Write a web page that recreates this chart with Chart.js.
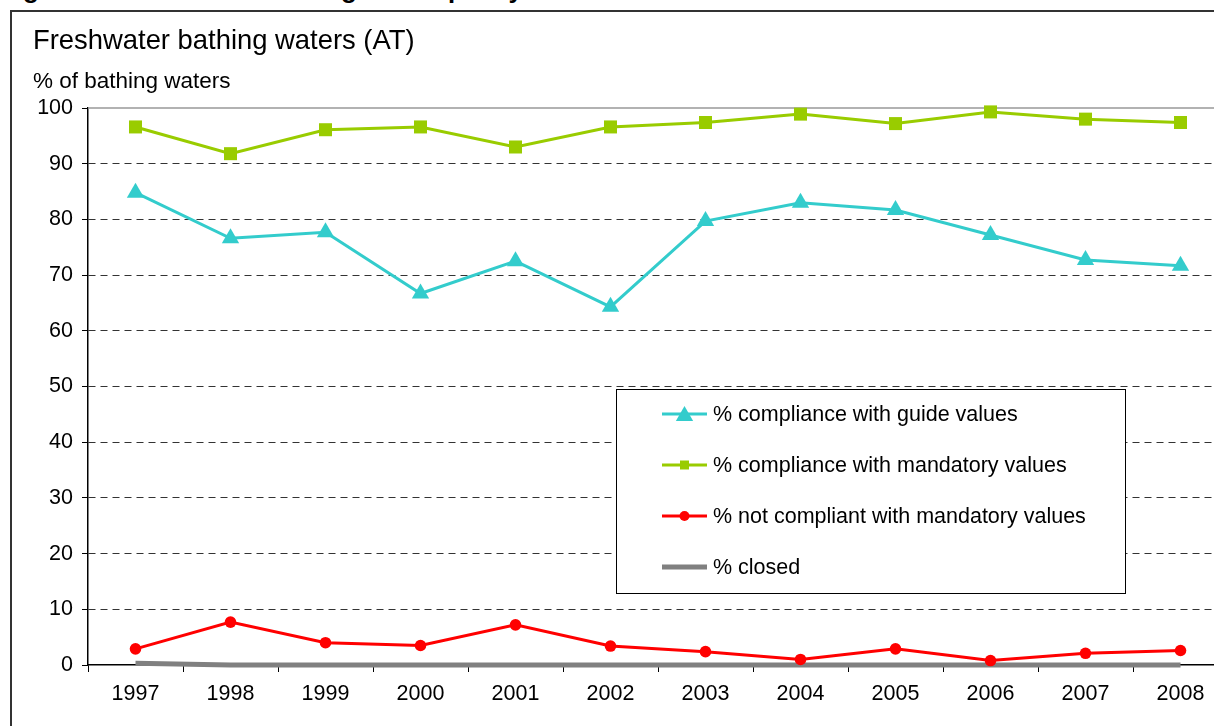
<!DOCTYPE html>
<html>
<head>
<meta charset="utf-8">
<script src="https://cdn.jsdelivr.net/npm/chart.js@4.4.1/dist/chart.umd.min.js"></script>
<style>
  html, body { margin: 0; padding: 0; background: #fff; overflow: hidden; width: 1214px; height: 726px; }
  body { position: relative; font-family: "Liberation Sans", Arial, sans-serif; color: #000; }
  #heading { position: absolute; left: 0; top: -24px; font-weight: bold; font-size: 26px; line-height: 26px; white-space: nowrap; }
  #frame { position: absolute; left: 10px; top: 10px; width: 1300px; height: 800px; border: 2px solid #333; box-sizing: border-box; }
  #title { position: absolute; left: 33px; top: 24px; font-size: 27.4px; line-height: 32px; white-space: nowrap; }
  #ytitle { position: absolute; left: 33px; top: 68px; font-size: 22.5px; line-height: 26px; white-space: nowrap; }
  #wrap { position: absolute; left: 0; top: 0; width: 1240px; height: 726px; }
</style>
</head>
<body>
<div id="heading">Figure 1: Freshwater bathing water quality</div>
<div id="frame"></div>
<div id="wrap"><canvas id="myChart" width="1240" height="726"></canvas></div>
<div id="title">Freshwater bathing waters (AT)</div>
<div id="ytitle">% of bathing waters</div>

<script>
// values
const years = ['1997', '1998', '1999', '2000', '2001', '2002', '2003', '2004', '2005', '2006', '2007', '2008'];
const guideValues = [84.8, 76.6, 77.7, 66.7, 72.5, 64.3, 79.7, 83.0, 81.7, 77.2, 72.7, 71.7];
const mandatoryValues = [96.6, 91.8, 96.1, 96.6, 93.0, 96.6, 97.4, 98.9, 97.2, 99.3, 98.0, 97.4];
const notCompliant = [2.9, 7.7, 4.0, 3.5, 7.2, 3.4, 2.4, 1.0, 2.9, 0.8, 2.1, 2.6];
const closedValues = [0.3, 0, 0, 0, 0, 0, 0, 0, 0, 0, 0, 0];
const yTicks = [0, 10, 20, 30, 40, 50, 60, 70, 80, 90, 100];

const fontFamily = '"Liberation Sans", Arial, sans-serif';

// top solid gray line at 100 (plot area edge)
const topLine = {
  id: 'topLine',
  beforeDatasetsDraw(chart) {
    const ctx = chart.ctx;
    const area = chart.chartArea;
    const y = chart.scales.y.getPixelForValue(100);
    ctx.save();
    ctx.strokeStyle = '#999';
    ctx.lineWidth = 1.5;
    ctx.beginPath();
    ctx.moveTo(area.left, y);
    ctx.lineTo(area.right, y);
    ctx.stroke();
    ctx.restore();
  }
};

function marker(ctx, style, x, y, r, color) {
  ctx.fillStyle = color;
  ctx.beginPath();
  if (style === 'triangle') {
    ctx.moveTo(x, y - r);
    ctx.lineTo(x + r * 0.866, y + r / 2);
    ctx.lineTo(x - r * 0.866, y + r / 2);
    ctx.closePath();
  } else if (style === 'rect') {
    ctx.rect(x - r, y - r, 2 * r, 2 * r);
  } else if (style === 'circle') {
    ctx.arc(x, y, r, 0, Math.PI * 2);
  }
  ctx.fill();
}

// legend box drawn inside the plot
const boxLegend = {
  id: 'boxLegend',
  afterDatasetsDraw(chart) {
    const ctx = chart.ctx;
    ctx.save();
    ctx.fillStyle = '#fff';
    ctx.fillRect(616, 389, 509, 204);
    ctx.strokeStyle = '#000';
    ctx.lineWidth = 1;
    ctx.strokeRect(616.5, 389.5, 509, 204);
    const legendSizes = [10, 4.5, 5, 0];
    chart.data.datasets.forEach((ds, i) => {
      const y = 414 + i * 51;
      ctx.strokeStyle = ds.borderColor;
      ctx.lineWidth = ds.borderWidth;
      ctx.beginPath();
      ctx.moveTo(662, y);
      ctx.lineTo(707, y);
      ctx.stroke();
      if (legendSizes[i]) marker(ctx, ds.pointStyle, 684.5, y + (ds.pointStyle === 'triangle' ? 2 : 0), legendSizes[i], ds.borderColor);
      ctx.fillStyle = '#000';
      ctx.font = '21.5px ' + fontFamily;
      ctx.textBaseline = 'middle';
      ctx.fillText(ds.label, 713, y + 1);
    });
    ctx.restore();
  }
};

const ctx = document.getElementById('myChart').getContext('2d');
new Chart(ctx, {
  type: 'line',
  data: {
    labels: years,
    datasets: [{
      label: '% compliance with guide values',
      data: guideValues,
      borderColor: '#33CCCC',
      backgroundColor: '#33CCCC',
      borderWidth: 3,
      pointStyle: 'triangle',
      pointRadius: 10,
      pointBorderWidth: 0,
      clip: false
    }, {
      label: '% compliance with mandatory values',
      data: mandatoryValues,
      borderColor: '#99CC00',
      backgroundColor: '#99CC00',
      borderWidth: 3,
      pointStyle: 'rect',
      pointRadius: 9.2,
      pointBorderWidth: 0,
      clip: false
    }, {
      label: '% not compliant with mandatory values',
      data: notCompliant,
      borderColor: '#FF0000',
      backgroundColor: '#FF0000',
      borderWidth: 3,
      pointStyle: 'circle',
      pointRadius: 5.8,
      pointBorderWidth: 0,
      clip: false
    }, {
      label: '% closed',
      data: closedValues,
      borderColor: '#808080',
      backgroundColor: '#808080',
      borderWidth: 5,
      pointRadius: 0,
      clip: false
    }]
  },
  options: {
    responsive: false,
    animation: false,
    layout: { padding: { left: 20, top: 108, right: 12, bottom: 0 } },
    plugins: {
      legend: { display: false },
      tooltip: { enabled: false }
    },
    elements: { line: { tension: 0 } },
    scales: {
      x: {
        offset: true,
        grid: { offset: true, drawOnChartArea: false, drawTicks: true, tickLength: 7, tickColor: '#000', tickWidth: 1 },
        border: { color: '#000', width: 1.5 },
        ticks: { color: '#000', font: { size: 21.5, family: fontFamily }, padding: 9, maxRotation: 0, autoSkip: false },
        afterFit: (s) => { s.height = 61; }
      },
      y: {
        min: 0,
        max: 100,
        afterBuildTicks: (s) => { s.ticks = yTicks.map((v) => ({ value: v })); },
        grid: {
          color: (c) => (c.tick && (c.tick.value === 0 || c.tick.value === 100)) ? 'rgba(0,0,0,0)' : '#333',
          lineWidth: 1,
          tickColor: '#000',
          tickLength: 6,
          tickBorderDash: []
        },
        border: { color: '#000', width: 1.5, dash: [7, 5] },
        ticks: { color: '#000', font: { size: 21.5, family: fontFamily }, padding: 9 },
        afterFit: (s) => { s.width = 68; }
      }
    }
  },
  plugins: [topLine, boxLegend]
});
</script>
</body>
</html>
